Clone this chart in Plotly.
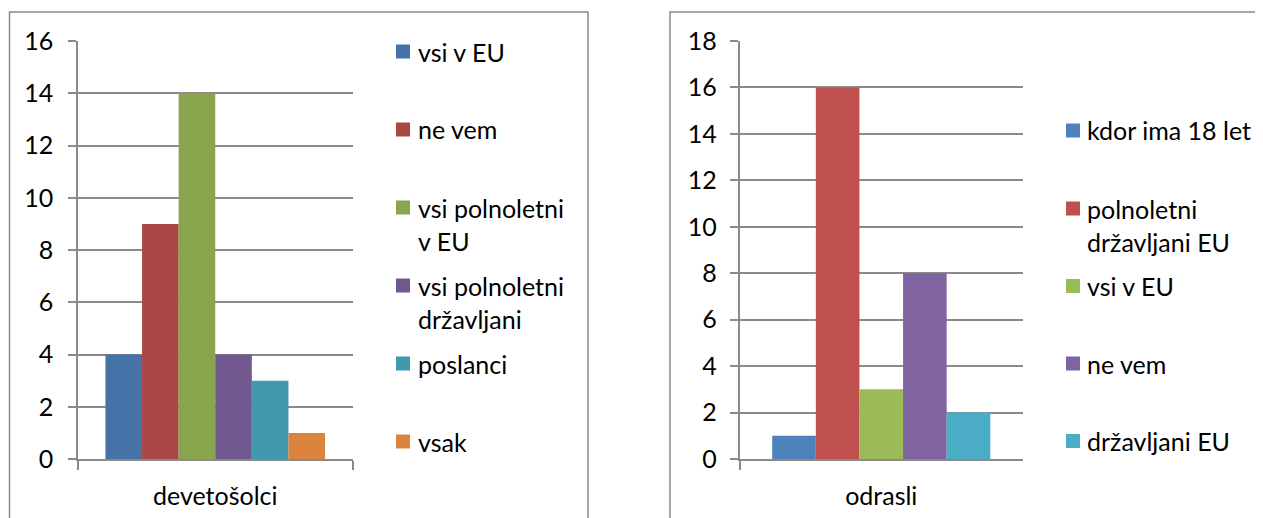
import plotly.graph_objects as go

W, H = 1263, 518
OX, OY = 8, 8          # page body margin offset
FW, FH = W - OX, H - OY

# ---------------- data ----------------
left_category = ["devetošolci"]
left_names = ["vsi v EU", "ne vem", "vsi polnoletni<br>v EU", "vsi polnoletni<br>državljani", "poslanci", "vsak"]
left_values = [4, 9, 14, 4, 3, 1]
left_colors = ["#4572A7", "#AA4643", "#89A54E", "#71588F", "#4198AF", "#DB843D"]

right_category = ["odrasli"]
right_names = ["kdor ima 18 let", "polnoletni<br>državljani EU", "vsi v EU", "ne vem", "državljani EU"]
right_values = [1, 16, 3, 8, 2]
right_colors = ["#4F81BD", "#C0504D", "#9BBB59", "#8064A2", "#4BACC6"]

left_yticks = [0, 2, 4, 6, 8, 10, 12, 14, 16]
right_yticks = [0, 2, 4, 6, 8, 10, 12, 14, 16, 18]

FONT = "Lato"
FS = 25
GRID = "#8A8A8A"

def px_x(p):
    return (p - OX) / FW

def px_y(p):
    return 1 - (p - OY) / FH

fig = go.Figure()

nL = len(left_names)
gapL = 1.5 / (nL + 1.5)
bwL = (1 - gapL) / nL
for i, (name, v, c) in enumerate(zip(left_names, left_values, left_colors)):
    fig.add_trace(go.Bar(x=left_category, y=[v], name=name, marker_color=c,
                         marker_line_width=0, width=bwL, offset=-0.5 + gapL / 2 + i * bwL,
                         xaxis="x", yaxis="y", showlegend=False))

nR = len(right_names)
gapR = 1.5 / (nR + 1.5)
bwR = (1 - gapR) / nR
for i, (name, v, c) in enumerate(zip(right_names, right_values, right_colors)):
    fig.add_trace(go.Bar(x=right_category, y=[v], name=name, marker_color=c,
                         marker_line_width=0, width=bwR, offset=-0.5 + gapR / 2 + i * bwR,
                         xaxis="x2", yaxis="y2", showlegend=False))

ydom = [px_y(459), px_y(41)]

axis_common = dict(showline=True, linecolor=GRID, linewidth=1.5, mirror=False, automargin=False,
                   tickfont=dict(family=FONT, size=FS, color="#000000"))

fig.update_layout(
    width=FW, height=FH,
    margin=dict(l=0, r=0, t=0, b=0, autoexpand=False),
    paper_bgcolor="white", plot_bgcolor="white",
    barmode="overlay",
    xaxis=dict(domain=[px_x(78), px_x(352.5)], anchor="y", type="category",
               ticks="outside", tickson="boundaries", ticklen=9, tickcolor=GRID, tickwidth=1.5,
               showgrid=False, ticklabelstandoff=14, **axis_common),
    yaxis=dict(domain=ydom, anchor="x", range=[0, 16], tickvals=left_yticks,
               ticks="outside", ticklen=8, tickcolor=GRID, tickwidth=1.5,
               showgrid=True, gridcolor=GRID, gridwidth=1.5, zeroline=False,
               ticklabelstandoff=10, **axis_common),
    xaxis2=dict(domain=[px_x(739.5), px_x(1023)], anchor="y2", type="category",
                ticks="outside", tickson="boundaries", ticklen=9, tickcolor=GRID, tickwidth=1.5,
                showgrid=False, ticklabelstandoff=14, **axis_common),
    yaxis2=dict(domain=ydom, anchor="x2", range=[0, 18], tickvals=right_yticks,
                ticks="outside", ticklen=8, tickcolor=GRID, tickwidth=1.5,
                showgrid=True, gridcolor=GRID, gridwidth=1.5, zeroline=False,
                ticklabelstandoff=8, **axis_common),
)

# chart borders (Excel chart area frames)
shapes = [
    dict(type="rect", xref="paper", yref="paper", x0=px_x(9.5), x1=px_x(588), y0=-0.05, y1=px_y(12),
         line=dict(color=GRID, width=1.5), fillcolor="rgba(0,0,0,0)", layer="below"),
    dict(type="rect", xref="paper", yref="paper", x0=px_x(670), x1=1.05, y0=-0.05, y1=px_y(12),
         line=dict(color=GRID, width=1.5), fillcolor="rgba(0,0,0,0)", layer="below"),
]
annotations = []

def legend(names, colors, sq_x, txt_x, centers):
    for name, c, cy in zip(names, colors, centers):
        shapes.append(dict(type="rect", xref="paper", yref="paper",
                           x0=px_x(sq_x), x1=px_x(sq_x + 14), y0=px_y(cy + 7), y1=px_y(cy - 7),
                           line=dict(width=0), fillcolor=c))
        annotations.append(dict(xref="paper", yref="paper", x=px_x(txt_x), y=px_y(cy - 17),
                                xanchor="left", yanchor="top", align="left", showarrow=False,
                                text=name, font=dict(family=FONT, size=FS, color="#000000")))

legend(left_names, left_colors, 396, 416, [51.5, 129.5, 207.5, 285.5, 363.5, 441.5])
legend(right_names, right_colors, 1066, 1085, [130.5, 208.5, 286, 363.5, 441])

fig.update_layout(shapes=shapes, annotations=annotations)

fig.write_html("out.html")
